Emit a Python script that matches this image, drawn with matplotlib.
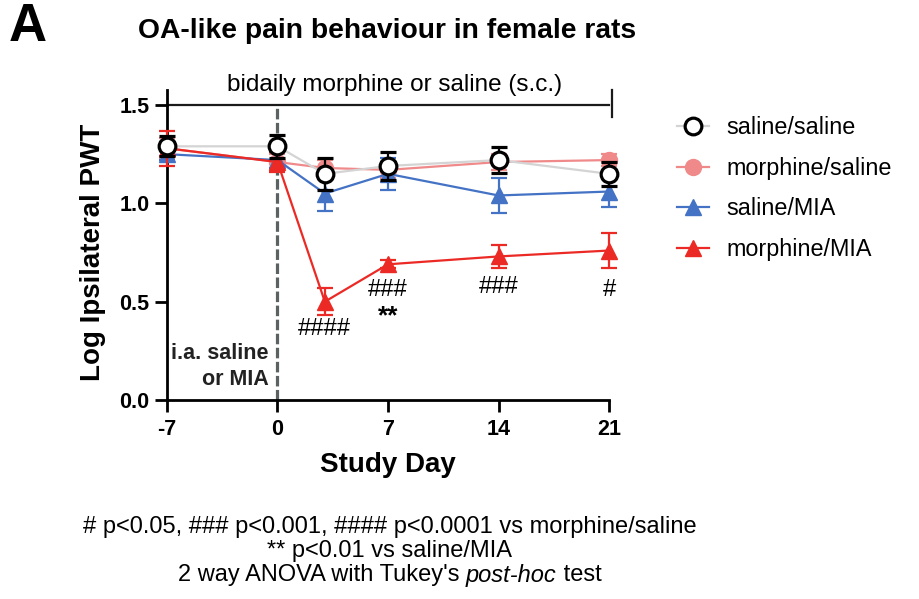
import matplotlib
matplotlib.use("Agg")
import matplotlib.pyplot as plt
from matplotlib.lines import Line2D

plt.rcParams['font.family'] = ['Liberation Sans', 'DejaVu Sans']

# Study days and group means / SEM (log ipsilateral PWT)
days = [-7, 0, 3, 7, 14, 21]
day_ticks = [-7, 0, 7, 14, 21]
day_tick_labels = ["-7", "0", "7", "14", "21"]
pwt_ticks = [0.0, 0.5, 1.0, 1.5]
pwt_tick_labels = ["0.0", "0.5", "1.0", "1.5"]

sal_sal = [1.29, 1.29, 1.15, 1.19, 1.22, 1.15]
sal_sal_err = [0.05, 0.06, 0.08, 0.07, 0.065, 0.06]

mor_sal = [1.28, 1.21, 1.18, 1.17, 1.21, 1.22]
mor_sal_err = [0.05, 0.04, 0.04, 0.04, 0.04, 0.03]

sal_mia = [1.25, 1.22, 1.05, 1.15, 1.04, 1.06]
sal_mia_err = [0.03, 0.04, 0.09, 0.08, 0.09, 0.08]

mor_mia = [1.28, 1.21, 0.50, 0.69, 0.73, 0.76]
mor_mia_err = [0.09, 0.05, 0.07, 0.02, 0.06, 0.09]

group_labels = ["saline/saline", "morphine/saline", "saline/MIA", "morphine/MIA"]

# significance marks below morphine/MIA points: (day, text, y)
sig_marks = [(3, "####", 0.36), (7, "###", 0.56), (7, "**", 0.425),
             (14, "###", 0.575), (21, "#", 0.56)]

footnote = ["# p<0.05, ### p<0.001, #### p<0.0001 vs morphine/saline",
            "** p<0.01 vs saline/MIA"]
stats_parts = ["2 way ANOVA with Tukey's ", "post-hoc", " test"]

c_grey = "#d4d4d4"
c_pink = "#f08a8a"
c_blue = "#4472c4"
c_red = "#ec2a25"

fig = plt.figure(figsize=(9.19, 5.99), dpi=100)
ax = fig.add_axes([0.1817, 0.3322, 0.4810, 0.4925])

lw = 1.6
ekw = dict(capsize=6, capthick=1.6, elinewidth=1.6, clip_on=False)

ax.errorbar(days, mor_sal, yerr=mor_sal_err, color=c_pink, lw=lw, marker='o',
            ms=11.5, mfc=c_pink, mec=c_pink, zorder=3, **ekw)
ax.errorbar(days, sal_mia, yerr=sal_mia_err, color=c_blue, lw=lw, marker='^',
            ms=12, mfc=c_blue, mec=c_blue, zorder=4, **ekw)
ax.errorbar(days, mor_mia, yerr=mor_mia_err, color=c_red, lw=lw, marker='^',
            ms=12, mfc=c_red, mec=c_red, zorder=5, **ekw)
# saline/saline: grey connecting line, black open circles and error bars
ax.plot(days, sal_sal, color=c_grey, lw=lw, zorder=5.5, clip_on=False)
ax.errorbar(days, sal_sal, yerr=sal_sal_err, color='black', lw=0, marker='o',
            ms=12, mfc='white', mec='black', mew=2.3, zorder=6, **ekw)

# dashed line marking i.a. injection day
ax.plot([0, 0], [0, 1.5], ls=(0, (3.3, 1.1)), color='#5a6262', lw=2.3, zorder=2,
        clip_on=False)
ax.text(-0.55, 0.235, "i.a. saline", ha='right', va='center', fontsize=15.5,
        fontweight='bold', color='#222222')
ax.text(-0.55, 0.105, "or MIA", ha='right', va='center', fontsize=15.5,
        fontweight='bold', color='#222222')

# treatment bracket
ax.plot([-7, 21], [1.5, 1.5], color='#1a1a1a', lw=1.6, clip_on=False, zorder=1)
ax.plot([21.2, 21.2], [1.44, 1.575], color='#1a1a1a', lw=1.6, clip_on=False)
ax.plot([-7, -7], [1.5, 1.575], color='black', lw=2, clip_on=False)
ax.text(7.4, 1.545, "bidaily morphine or saline (s.c.)", ha='center',
        va='bottom', fontsize=17.5)

for d, t, y in sig_marks:
    ax.text(d, y, t, ha='center', va='center',
            fontsize=19 if t == "**" else 17,
            fontweight='bold' if t == "**" else 'normal')

ax.set_xlim(-7, 21)
ax.set_ylim(0, 1.5)
ax.set_xticks(day_ticks)
ax.set_xticklabels(day_tick_labels)
ax.set_yticks(pwt_ticks)
ax.set_yticklabels(pwt_tick_labels)
ax.spines['top'].set_visible(False)
ax.spines['right'].set_visible(False)
for s in ('left', 'bottom'):
    ax.spines[s].set_linewidth(2)
ax.tick_params(width=2, length=8.5, labelsize=15.5)
ax.tick_params(axis='x', pad=5)
ax.tick_params(axis='y', pad=4)
for lab in ax.get_xticklabels() + ax.get_yticklabels():
    lab.set_fontweight('bold')
ax.set_xlabel("Study Day", fontsize=20, fontweight='bold', labelpad=9)
ax.set_ylabel("Log Ipsilateral PWT", fontsize=20, fontweight='bold', labelpad=10)

# legend
handles = [
    Line2D([], [], color=c_grey, lw=lw, marker='o', ms=12, mfc='white',
           mec='black', mew=2.3),
    Line2D([], [], color=c_pink, lw=lw, marker='o', ms=11.5, mfc=c_pink, mec=c_pink),
    Line2D([], [], color=c_blue, lw=lw, marker='^', ms=12, mfc=c_blue, mec=c_blue),
    Line2D([], [], color=c_red, lw=lw, marker='^', ms=12, mfc=c_red, mec=c_red),
]
fig.legend(handles, group_labels, loc='upper left',
           bbox_to_anchor=(0.727, 0.822), frameon=False, fontsize=16.8,
           handlelength=1.35, labelspacing=0.76, handletextpad=0.75,
           borderaxespad=0)

fig.text(0.009, 0.955, "A", fontsize=38, fontweight='bold', va='center')
fig.text(0.421, 0.948, "OA-like pain behaviour in female rats", fontsize=20.3,
         fontweight='bold', ha='center', va='center')

fig.text(0.424, 0.12, footnote[0], ha='center', va='center', fontsize=17)
fig.text(0.424, 0.08, footnote[1], ha='center', va='center', fontsize=17)

# last footnote line: regular text with an italic "post-hoc", centred as a whole
t1 = fig.text(0.0, 0.04, stats_parts[0], ha='left', va='center', fontsize=17)
t2 = fig.text(0.0, 0.04, stats_parts[1], ha='left', va='center', fontsize=17,
              style='italic')
t3 = fig.text(0.0, 0.04, stats_parts[2], ha='left', va='center', fontsize=17)
fig.canvas.draw()
renderer = fig.canvas.get_renderer()
widths = [t.get_window_extent(renderer).width / fig.bbox.width for t in (t1, t2, t3)]
x0 = 0.424 - sum(widths) / 2
t1.set_x(x0)
t2.set_x(x0 + widths[0])
t3.set_x(x0 + widths[0] + widths[1])

fig.savefig("out.png", dpi=100)
